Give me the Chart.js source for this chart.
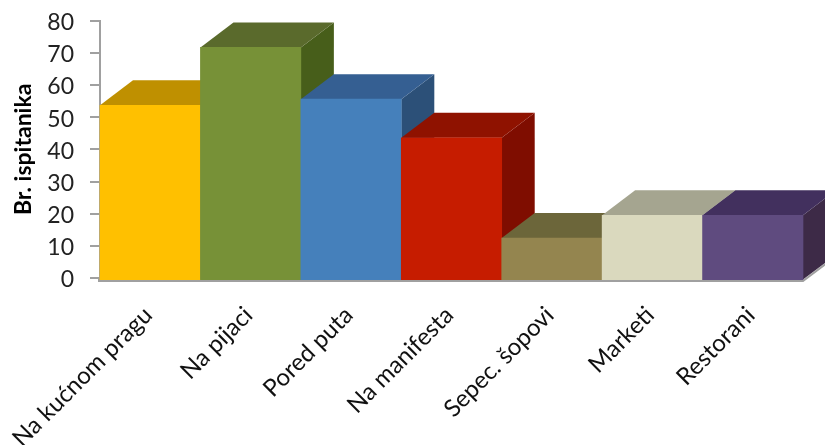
<!DOCTYPE html>
<html><head><meta charset="utf-8">
<style>html,body{margin:0;padding:0;background:#fff}#w{position:relative;width:825px;height:445px;overflow:hidden}</style>
<script src="https://cdn.jsdelivr.net/npm/chart.js@4"></script>
</head><body><div id="w"><canvas id="c" width="825" height="445"></canvas></div>
<script>
const categories = ["Na kućnom pragu","Na pijaci","Pored puta","Na manifesta","Sepec. šopovi","Marketi","Restorani"];
const respondents = [53.7,71.7,55.6,43.6,12.4,19.5,19.5];
const frontColors = ["#FFC000","#779137","#4580BB","#C61C00","#94854F","#DAD9BE","#5F4B7F"];
const topColors = ["#BF9000","#5A6A2C","#355F92","#8F1200","#6C663A","#A5A590","#42305E"];
const sideColors = ["#BF9000","#475E1A","#2C5078","#7F0D00","#5E5830","#8F8F78","#3D2A47"];
const depthX = 33, depthY = 25;
const axisGrey = "#A0A0A0";

const cube = {
  id:"cube",
  beforeDatasetsDraw(chart){
    const {ctx,chartArea} = chart;
    const bars = chart.getDatasetMeta(0).data;
    const base = bars[0].base;
    ctx.save();
    ctx.strokeStyle = axisGrey; ctx.lineWidth = 2;
    ctx.beginPath();
    ctx.moveTo(chartArea.left-1, chartArea.bottom);
    ctx.lineTo(chartArea.left-1, base+1.5);
    ctx.lineTo(chartArea.right, base+1.5);
    ctx.lineTo(chartArea.right+depthX, base+1.5-depthY);
    ctx.stroke();
    bars.forEach((b,i)=>{
      const w = b.width, l = b.x-w/2, r = b.x+w/2, t = b.y;
      ctx.fillStyle = sideColors[i];
      ctx.beginPath();
      ctx.moveTo(r,t); ctx.lineTo(r+depthX,t-depthY); ctx.lineTo(r+depthX,base-depthY); ctx.lineTo(r,base);
      ctx.closePath(); ctx.fill();
      ctx.fillStyle = topColors[i];
      ctx.beginPath();
      ctx.moveTo(l,t); ctx.lineTo(l+depthX,t-depthY); ctx.lineTo(r+depthX,t-depthY); ctx.lineTo(r,t);
      ctx.closePath(); ctx.fill();
    });
    ctx.restore();
  }
};

new Chart(document.getElementById("c"),{
  type:"bar",
  data:{labels:categories,datasets:[{data:respondents,base:-0.5,clip:false,backgroundColor:frontColors,borderWidth:0,barPercentage:1,categoryPercentage:1}]},
  plugins:[cube],
  options:{
    responsive:false,animation:false,devicePixelRatio:1,
    layout:{autoPadding:false,padding:{top:20.7,right:22,left:0,bottom:0}},
    plugins:{legend:{display:false},tooltip:{enabled:false},title:{display:false}},
    scales:{
      x:{
        grid:{display:false},
        border:{display:false},
        ticks:{color:"#111",font:{family:"Lato",size:24},minRotation:45,maxRotation:45,padding:15,labelOffset:-2},
        afterFit(s){s.height=167;s.paddingLeft=0;s.paddingRight=0;}
      },
      y:{
        min:0,max:80,
        grid:{drawOnChartArea:false,tickLength:10,tickColor:axisGrey,lineWidth:2},
        border:{display:true,color:axisGrey,width:2},
        ticks:{stepSize:10,color:"#222",font:{family:"Lato",size:23},padding:16,labelOffset:2},
        title:{display:true,text:"Br. ispitanika",color:"#000",font:{family:"Lato",size:23,weight:"bold"},padding:{top:10,bottom:0}},
        afterFit(s){s.width=100;s.paddingTop=0;s.paddingBottom=0;}
      }
    }
  }
});
</script></body></html>
